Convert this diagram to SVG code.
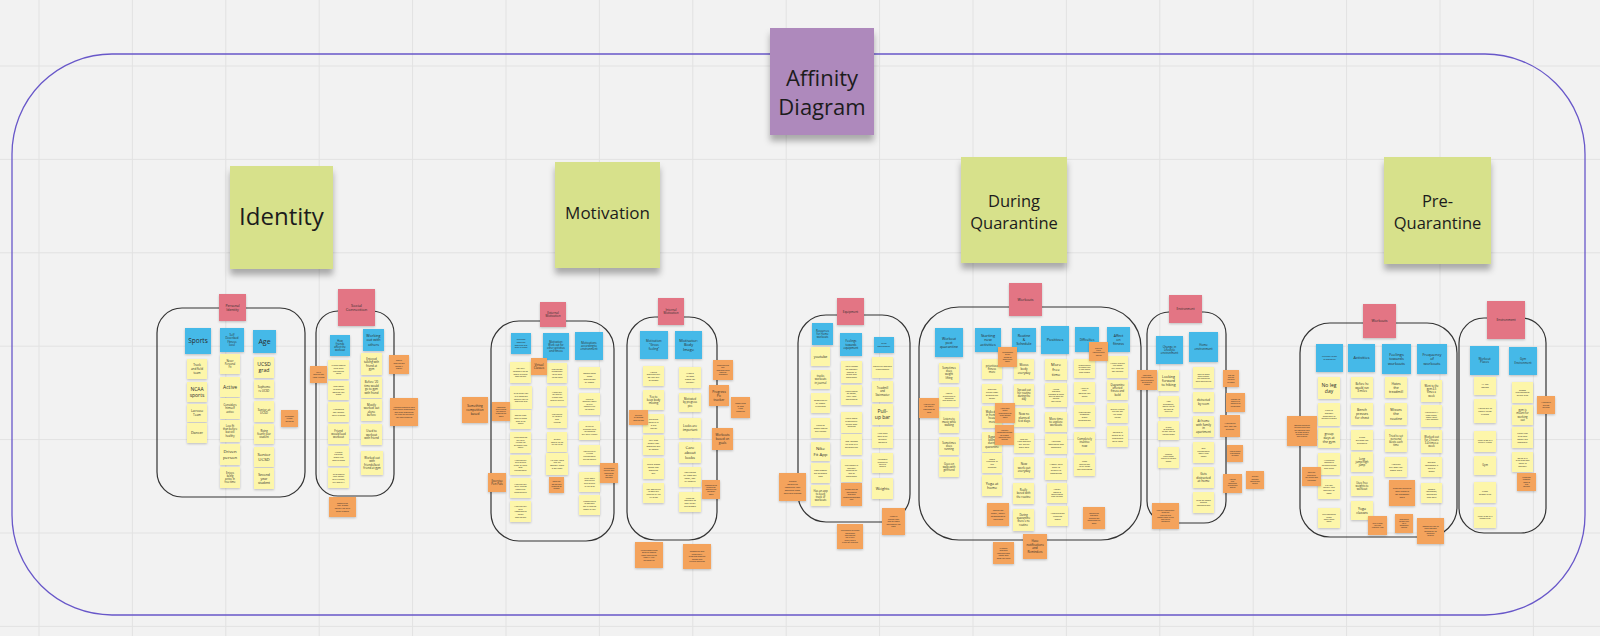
<svg xmlns="http://www.w3.org/2000/svg" width="1600" height="636" viewBox="0 0 1600 636">
<defs>
<filter id="ss" x="-20%" y="-20%" width="140%" height="150%"><feDropShadow dx="0" dy="1" stdDeviation=".8" flood-color="#000" flood-opacity=".22"/></filter>
<filter id="bs" x="-20%" y="-20%" width="140%" height="140%"><feDropShadow dx="0" dy="6" stdDeviation="3" flood-color="#000" flood-opacity=".3"/></filter>
<style>
text{font-family:"Open Sans","Liberation Sans",Arial,sans-serif;text-anchor:middle;fill:#2a2a2a}
.y{fill:#fdf6aa;filter:url(#ss)}
.b{fill:#45b9e8;filter:url(#ss)}
.p{fill:#e37484;filter:url(#ss)}
.o{fill:#f4a35c;filter:url(#ss)}
.g{fill:#d7e18b;filter:url(#bs)}
.v{fill:#ae89bc;filter:url(#bs)}
.big{fill:#1c1c1c}
.fr{fill:none;stroke:#333;stroke-width:1.2}
.grid{stroke:#e2e2e2;stroke-width:1;fill:none}
</style>
</defs>
<rect width="1600" height="636" fill="#f2f2f2"/>
<path class="grid" d="M39 0V636M132.4 0V636M225.8 0V636M319.2 0V636M412.6 0V636M506 0V636M599.4 0V636M692.8 0V636M786.2 0V636M879.6 0V636M973 0V636M1066.4 0V636M1159.8 0V636M1253.2 0V636M1346.6 0V636M1440 0V636M1533.4 0V636"/>
<path class="grid" stroke-width="1.6" d="M0 66H1600M0 159.4H1600M0 252.8H1600M0 346.2H1600M0 439.6H1600M0 533H1600M0 626.4H1600"/>

<g id="connectors">
<rect x="12" y="54" width="1573" height="561" rx="100" ry="100" fill="none" stroke="#6857c9" stroke-width="1.3"/>
<rect class="fr" x="157" y="308" width="148" height="189" rx="25"/>
<rect class="fr" x="316" y="311" width="78" height="185" rx="22"/>
<rect class="fr" x="491" y="321" width="123" height="220" rx="28"/>
<rect class="fr" x="627" y="317" width="90" height="223" rx="28"/>
<rect class="fr" x="798" y="315" width="112" height="207" rx="28"/>
<rect class="fr" x="919" y="307" width="222" height="233" rx="40"/>
<rect class="fr" x="1147" y="312" width="79" height="211" rx="22"/>
<rect class="fr" x="1300" y="323" width="157" height="214" rx="30"/>
<rect class="fr" x="1459" y="318" width="87" height="215" rx="25"/>
</g>

<g id="title" transform="translate(770 28)"><rect class="v" width="104" height="107"/><text x="52" y="63" font-size="22" class="big"><tspan dy="-.25em">Affinity</tspan><tspan x="52" dy="1.36em">Diagram</tspan></text></g>
<g id="identity" transform="translate(230 166)"><rect class="g" width="103" height="103"/><text x="51.5" y="51" font-size="24" class="big" dy=".35em">Identity</text></g>
<g id="motivation" transform="translate(555 162)"><rect class="g" width="105" height="106"/><text x="52.5" y="51" font-size="17" class="big" dy=".35em">Motivation</text></g>
<g id="during-quarantine" transform="translate(961 157)"><rect class="g" width="106" height="106"/><text x="53" y="55" font-size="16.5" class="big"><tspan dy="-.33em">During</tspan><tspan x="53" dy="1.36em">Quarantine</tspan></text></g>
<g id="pre-quarantine" transform="translate(1384 157)"><rect class="g" width="107" height="107"/><text x="53.5" y="55" font-size="16.5" class="big"><tspan dy="-.33em">Pre-</tspan><tspan x="53.5" dy="1.36em">Quarantine</tspan></text></g>

<!-- Identity: Personal Identity -->
<g id="personal-identity" transform="translate(219 294)"><rect class="p" width="27" height="27"/><text x="13.5" y="13.5" font-size="3.5"><tspan dy="-.25em">Personal</tspan><tspan x="13.5" dy="1.2em">Identity</tspan></text></g>
<g id="sports" transform="translate(185 328)"><rect class="b" width="26" height="26"/><text x="13" y="13" font-size="6.5" dy=".35em">Sports</text></g>
<g id="fitness-level" transform="translate(220 328)"><rect class="b" width="24" height="24"/><text x="12" y="12" font-size="2.8"><tspan dy="-1.45em">Self</tspan><tspan x="12" dy="1.2em">Described</tspan><tspan x="12" dy="1.2em">Fitness</tspan><tspan x="12" dy="1.2em">level</tspan></text></g>
<g id="age" transform="translate(253 330)"><rect class="b" width="23" height="23"/><text x="11.5" y="11.5" font-size="7" dy=".35em">Age</text></g>
<g id="id-s1" transform="translate(187 359)"><rect class="y" width="20" height="20"/><text x="10" y="10" font-size="3"><tspan dy="-.85em">Track</tspan><tspan x="10" dy="1.2em">and field</tspan><tspan x="10" dy="1.2em">team</tspan></text></g>
<g id="id-s2" transform="translate(187 382)"><rect class="y" width="20" height="20"/><text x="10" y="10" font-size="5"><tspan dy="-.25em">NCAA</tspan><tspan x="10" dy="1.2em">sports</tspan></text></g>
<g id="id-s3" transform="translate(187 404)"><rect class="y" width="20" height="18"/><text x="10" y="9" font-size="3"><tspan dy="-.25em">Lacrosse</tspan><tspan x="10" dy="1.2em">Team</tspan></text></g>
<g id="id-s4" transform="translate(187 423)"><rect class="y" width="20" height="20"/><text x="10" y="10" font-size="3.6" dy=".35em">Dancer</text></g>
<g id="id-f1" transform="translate(220 354)"><rect class="y" width="20" height="20"/><text x="10" y="10" font-size="2.6"><tspan dy="-.85em">Never</tspan><tspan x="10" dy="1.2em">Personal</tspan><tspan x="10" dy="1.2em">Fit</tspan></text></g>
<g id="id-f2" transform="translate(220 377)"><rect class="y" width="20" height="20"/><text x="10" y="10" font-size="5" dy=".35em">Active</text></g>
<g id="id-f3" transform="translate(220 398)"><rect class="y" width="20" height="21"/><text x="10" y="10.5" font-size="2.8"><tspan dy="-.85em">Considers</tspan><tspan x="10" dy="1.2em">himself</tspan><tspan x="10" dy="1.2em">active</tspan></text></g>
<g id="id-f4" transform="translate(220 420)"><rect class="y" width="20" height="22"/><text x="10" y="11" font-size="2.6"><tspan dy="-1.45em">Less fit</tspan><tspan x="10" dy="1.2em">than before</tspan><tspan x="10" dy="1.2em">but still</tspan><tspan x="10" dy="1.2em">healthy</tspan></text></g>
<g id="id-f5" transform="translate(220 444)"><rect class="y" width="20" height="21"/><text x="10" y="10.5" font-size="4.3"><tspan dy="-.25em">Driven</tspan><tspan x="10" dy="1.2em">person</tspan></text></g>
<g id="id-f6" transform="translate(220 467)"><rect class="y" width="20" height="21"/><text x="10" y="10.5" font-size="2.6"><tspan dy="-1.45em">Enjoys</tspan><tspan x="10" dy="1.2em">being</tspan><tspan x="10" dy="1.2em">active in</tspan><tspan x="10" dy="1.2em">free time</tspan></text></g>
<g id="id-a1" transform="translate(254 357)"><rect class="y" width="20" height="21"/><text x="10" y="10.5" font-size="5.2"><tspan dy="-.25em">UCSD</tspan><tspan x="10" dy="1.2em">grad</tspan></text></g>
<g id="id-a2" transform="translate(254 380)"><rect class="y" width="20" height="18"/><text x="10" y="9" font-size="2.8"><tspan dy="-.25em">Sophomo</tspan><tspan x="10" dy="1.2em">re UCSD</tspan></text></g>
<g id="id-a3" transform="translate(254 401)"><rect class="y" width="20" height="21"/><text x="10" y="10.5" font-size="3"><tspan dy="-.25em">Senior at</tspan><tspan x="10" dy="1.2em">UCSD</tspan></text></g>
<g id="id-a4" transform="translate(254 424)"><rect class="y" width="20" height="20"/><text x="10" y="10" font-size="2.6"><tspan dy="-.85em">Rising</tspan><tspan x="10" dy="1.2em">fourth year</tspan><tspan x="10" dy="1.2em">student</tspan></text></g>
<g id="id-a5" transform="translate(254 447)"><rect class="y" width="20" height="20"/><text x="10" y="10" font-size="4.3"><tspan dy="-.25em">Senior</tspan><tspan x="10" dy="1.2em">UCSD</tspan></text></g>
<g id="id-a6" transform="translate(254 468)"><rect class="y" width="20" height="21"/><text x="10" y="10.5" font-size="3.4"><tspan dy="-.85em">Second</tspan><tspan x="10" dy="1.2em">year</tspan><tspan x="10" dy="1.2em">student</tspan></text></g>
<g id="id-o1" transform="translate(281 410)"><rect class="o" width="17" height="17"/><text x="8.5" y="8.5" font-size="2.3"><tspan dy="-.85em">Transfer</tspan><tspan x="8.5" dy="1.2em">UCSD</tspan><tspan x="8.5" dy="1.2em">student</tspan></text></g>

<!-- Identity: Social Connection -->
<g id="social-connection" transform="translate(338 289)"><rect class="p" width="37" height="37"/><text x="18.5" y="18.5" font-size="4"><tspan dy="-.25em">Social</tspan><tspan x="18.5" dy="1.2em">Connection</tspan></text></g>
<g id="friends-affect" transform="translate(330 335)"><rect class="b" width="20" height="21"/><text x="10" y="10.5" font-size="2.6"><tspan dy="-1.45em">How</tspan><tspan x="10" dy="1.2em">friends</tspan><tspan x="10" dy="1.2em">affect the</tspan><tspan x="10" dy="1.2em">workout</tspan></text></g>
<g id="working-with-others" transform="translate(363 329)"><rect class="b" width="21" height="22"/><text x="10.5" y="11" font-size="3.7"><tspan dy="-.85em">Working</tspan><tspan x="10.5" dy="1.2em">out with</tspan><tspan x="10.5" dy="1.2em">others</tspan></text></g>
<g id="sc-l1" transform="translate(328 360)"><rect class="y" width="21" height="19"/><text x="10.5" y="9.5" font-size="2.3"><tspan dy="-1.45em">Friend would</tspan><tspan x="10.5" dy="1.2em">help with</tspan><tspan x="10.5" dy="1.2em">correcting</tspan><tspan x="10.5" dy="1.2em">form</tspan></text></g>
<g id="sc-l2" transform="translate(328 381)"><rect class="y" width="21" height="19"/><text x="10.5" y="9.5" font-size="2.2"><tspan dy="-1.45em">Less social</tspan><tspan x="10.5" dy="1.2em">interaction</tspan><tspan x="10.5" dy="1.2em">working out</tspan><tspan x="10.5" dy="1.2em">alone</tspan></text></g>
<g id="sc-l3" transform="translate(328 402)"><rect class="y" width="21" height="20"/><text x="10.5" y="10" font-size="2.4"><tspan dy="-.85em">Workouts</tspan><tspan x="10.5" dy="1.2em">last longer</tspan><tspan x="10.5" dy="1.2em">with friends</tspan></text></g>
<g id="sc-l4" transform="translate(328 424)"><rect class="y" width="21" height="20"/><text x="10.5" y="10" font-size="2.8"><tspan dy="-.85em">Friend</tspan><tspan x="10.5" dy="1.2em">would lead</tspan><tspan x="10.5" dy="1.2em">workout</tspan></text></g>
<g id="sc-l5" transform="translate(328 446)"><rect class="y" width="21" height="20"/><text x="10.5" y="10" font-size="2.3"><tspan dy="-1.45em">Weight</tspan><tspan x="10.5" dy="1.2em">training</tspan><tspan x="10.5" dy="1.2em">more fun</tspan><tspan x="10.5" dy="1.2em">with friends</tspan></text></g>
<g id="sc-l6" transform="translate(328 468)"><rect class="y" width="21" height="20"/><text x="10.5" y="10" font-size="2.2"><tspan dy="-1.45em">Gym would</tspan><tspan x="10.5" dy="1.2em">take longer</tspan><tspan x="10.5" dy="1.2em">with friends,</tspan><tspan x="10.5" dy="1.2em">but worth it</tspan></text></g>
<g id="sc-r1" transform="translate(361 353)"><rect class="y" width="21" height="22"/><text x="10.5" y="11" font-size="2.8"><tspan dy="-1.45em">Enjoyed</tspan><tspan x="10.5" dy="1.2em">talking with</tspan><tspan x="10.5" dy="1.2em">friend at</tspan><tspan x="10.5" dy="1.2em">gym</tspan></text></g>
<g id="sc-r2" transform="translate(361 377)"><rect class="y" width="21" height="21"/><text x="10.5" y="10.5" font-size="2.8"><tspan dy="-1.45em">Before '20</tspan><tspan x="10.5" dy="1.2em">time would</tspan><tspan x="10.5" dy="1.2em">go to gym</tspan><tspan x="10.5" dy="1.2em">with friend</tspan></text></g>
<g id="sc-r3" transform="translate(361 399)"><rect class="y" width="21" height="22"/><text x="10.5" y="11" font-size="2.9"><tspan dy="-1.45em">Mostly</tspan><tspan x="10.5" dy="1.2em">worked out</tspan><tspan x="10.5" dy="1.2em">alone</tspan><tspan x="10.5" dy="1.2em">before</tspan></text></g>
<g id="sc-r4" transform="translate(361 424)"><rect class="y" width="21" height="21"/><text x="10.5" y="10.5" font-size="2.9"><tspan dy="-.85em">Used to</tspan><tspan x="10.5" dy="1.2em">workout</tspan><tspan x="10.5" dy="1.2em">with friend</tspan></text></g>
<g id="sc-r5" transform="translate(361 451)"><rect class="y" width="22" height="24"/><text x="11" y="12" font-size="2.8"><tspan dy="-1.45em">Worked out</tspan><tspan x="11" dy="1.2em">with</tspan><tspan x="11" dy="1.2em">friends/best</tspan><tspan x="11" dy="1.2em">friend at gym</tspan></text></g>
<g id="sc-o1" transform="translate(389 355)"><rect class="o" width="20" height="19"/><text x="10" y="9.5" font-size="2.2"><tspan dy="-1.45em">Social</tspan><tspan x="10" dy="1.2em">motivation</tspan><tspan x="10" dy="1.2em">made it</tspan><tspan x="10" dy="1.2em">easier</tspan></text></g>
<g id="sc-o2" transform="translate(390 398)"><rect class="o" width="28" height="28"/><text x="14" y="14" font-size="2"><tspan dy="-2.05em">Workout partners hold</tspan><tspan x="14" dy="1.2em">each other accountable</tspan><tspan x="14" dy="1.2em">and keep motivation</tspan><tspan x="14" dy="1.2em">up even on the days</tspan><tspan x="14" dy="1.2em">you don't want to</tspan></text></g>
<g id="sc-o3" transform="translate(310 366)"><rect class="o" width="17" height="17"/><text x="8.5" y="8.5" font-size="2.1"><tspan dy="-.85em">Gets</tspan><tspan x="8.5" dy="1.2em">motivation</tspan><tspan x="8.5" dy="1.2em">from friends</tspan></text></g>
<g id="sc-o4" transform="translate(329 497)"><rect class="o" width="27" height="20"/><text x="13.5" y="10" font-size="2.2"><tspan dy="-1.45em">Something</tspan><tspan x="13.5" dy="1.2em">that allows</tspan><tspan x="13.5" dy="1.2em">socializing with</tspan><tspan x="13.5" dy="1.2em">other people</tspan></text></g>

<!-- Motivation: External -->
<g id="external-motivation" transform="translate(540 302)"><rect class="p" width="26" height="25"/><text x="13" y="12.5" font-size="3"><tspan dy="-.25em">External</tspan><tspan x="13" dy="1.2em">Motivation</tspan></text></g>
<g id="em-b1" transform="translate(511 333)"><rect class="b" width="20" height="21"/><text x="10" y="10.5" font-size="2.3"><tspan dy="-1.45em">Feelings</tspan><tspan x="10" dy="1.2em">towards</tspan><tspan x="10" dy="1.2em">working out</tspan><tspan x="10" dy="1.2em">with friends</tspan></text></g>
<g id="em-b2" transform="translate(543 333)"><rect class="b" width="26" height="27"/><text x="13" y="13.5" font-size="2.6"><tspan dy="-1.45em">Motivation:</tspan><tspan x="13" dy="1.2em">Work out for</tspan><tspan x="13" dy="1.2em">other activities</tspan><tspan x="13" dy="1.2em">and fitness</tspan></text></g>
<g id="em-b3" transform="translate(575 332)"><rect class="b" width="28" height="28"/><text x="14" y="14" font-size="2.8"><tspan dy="-.85em">Motivations</tspan><tspan x="14" dy="1.2em">according to</tspan><tspan x="14" dy="1.2em">environment</tspan></text></g>
<g id="em-1a" transform="translate(510 362)"><rect class="y" width="21" height="21"/><text x="10.5" y="10.5" font-size="2.2"><tspan dy="-1.45em">Not very</tspan><tspan x="10.5" dy="1.2em">competitive so</tspan><tspan x="10.5" dy="1.2em">more internal</tspan><tspan x="10.5" dy="1.2em">motivation</tspan></text></g>
<g id="em-1b" transform="translate(510 386)"><rect class="y" width="22" height="23"/><text x="11" y="11.5" font-size="2.3"><tspan dy="-1.45em">gym puts you</tspan><tspan x="11" dy="1.2em">in a position</tspan><tspan x="11" dy="1.2em">where you're</tspan><tspan x="11" dy="1.2em">working out</tspan></text></g>
<g id="em-1c" transform="translate(510 410)"><rect class="y" width="21" height="19"/><text x="10.5" y="9.5" font-size="2.3"><tspan dy="-1.45em">Spent time</tspan><tspan x="10.5" dy="1.2em">with friends</tspan><tspan x="10.5" dy="1.2em">with gym</tspan><tspan x="10.5" dy="1.2em">goals</tspan></text></g>
<g id="em-1d" transform="translate(510 432)"><rect class="y" width="21" height="21"/><text x="10.5" y="10.5" font-size="2.1"><tspan dy="-2.05em">Used working</tspan><tspan x="10.5" dy="1.2em">out with</tspan><tspan x="10.5" dy="1.2em">friends for</tspan><tspan x="10.5" dy="1.2em">guidance and</tspan><tspan x="10.5" dy="1.2em">social</tspan></text></g>
<g id="em-1e" transform="translate(510 455)"><rect class="y" width="21" height="20"/><text x="10.5" y="10" font-size="2.1"><tspan dy="-2.05em">Working out</tspan><tspan x="10.5" dy="1.2em">with others</tspan><tspan x="10.5" dy="1.2em">helps to learn</tspan><tspan x="10.5" dy="1.2em">gym</tspan><tspan x="10.5" dy="1.2em">environment</tspan></text></g>
<g id="em-1f" transform="translate(510 478)"><rect class="y" width="21" height="20"/><text x="10.5" y="10" font-size="2.2"><tspan dy="-1.45em">Working out</tspan><tspan x="10.5" dy="1.2em">with friends</tspan><tspan x="10.5" dy="1.2em">keeps her</tspan><tspan x="10.5" dy="1.2em">accountable</tspan></text></g>
<g id="em-1g" transform="translate(510 501)"><rect class="y" width="21" height="21"/><text x="10.5" y="10.5" font-size="2.2"><tspan dy="-2.05em">Working out</tspan><tspan x="10.5" dy="1.2em">with</tspan><tspan x="10.5" dy="1.2em">roommates</tspan><tspan x="10.5" dy="1.2em">helps</tspan><tspan x="10.5" dy="1.2em">motivation</tspan></text></g>
<g id="em-2a" transform="translate(547 363)"><rect class="y" width="20" height="20"/><text x="10" y="10" font-size="2.2"><tspan dy="-1.45em">Motivation</tspan><tspan x="10" dy="1.2em">to workout</tspan><tspan x="10" dy="1.2em">to be able</tspan><tspan x="10" dy="1.2em">to do yoga</tspan></text></g>
<g id="em-2b" transform="translate(547 386)"><rect class="y" width="20" height="20"/><text x="10" y="10" font-size="2.1"><tspan dy="-1.45em">Works out</tspan><tspan x="10" dy="1.2em">for overall</tspan><tspan x="10" dy="1.2em">fitness and</tspan><tspan x="10" dy="1.2em">mental health</tspan></text></g>
<g id="em-2c" transform="translate(547 408)"><rect class="y" width="20" height="20"/><text x="10" y="10" font-size="2.2"><tspan dy="-1.45em">Motivated</tspan><tspan x="10" dy="1.2em">by sports</tspan><tspan x="10" dy="1.2em">and</tspan><tspan x="10" dy="1.2em">friends</tspan></text></g>
<g id="em-2d" transform="translate(547 432)"><rect class="y" width="20" height="20"/><text x="10" y="10" font-size="2.2"><tspan dy="-.85em">Strong</tspan><tspan x="10" dy="1.2em">desire to go</tspan><tspan x="10" dy="1.2em">to the gym</tspan></text></g>
<g id="em-2e" transform="translate(546 453)"><rect class="y" width="22" height="22"/><text x="11" y="11" font-size="2.4"><tspan dy="-1.45em">He just feels</tspan><tspan x="11" dy="1.2em">like he</tspan><tspan x="11" dy="1.2em">doesn't have</tspan><tspan x="11" dy="1.2em">a set goal</tspan></text></g>
<g id="em-2f" transform="translate(549 477)"><rect class="o" width="15" height="16"/><text x="7.5" y="8" font-size="1.9"><tspan dy="-1.45em">Goals for</tspan><tspan x="7.5" dy="1.2em">weight and</tspan><tspan x="7.5" dy="1.2em">progress of</tspan><tspan x="7.5" dy="1.2em">fitness</tspan></text></g>
<g id="em-3a" transform="translate(579 367)"><rect class="y" width="21" height="21"/><text x="10.5" y="10.5" font-size="2.4"><tspan dy="-1.45em">Sometimes</tspan><tspan x="10.5" dy="1.2em">lacks</tspan><tspan x="10.5" dy="1.2em">motivation</tspan><tspan x="10.5" dy="1.2em">at home</tspan></text></g>
<g id="em-3b" transform="translate(579 393)"><rect class="y" width="21" height="22"/><text x="10.5" y="11" font-size="2.1"><tspan dy="-2.05em">Used to</tspan><tspan x="10.5" dy="1.2em">workout more</tspan><tspan x="10.5" dy="1.2em">to stay</tspan><tspan x="10.5" dy="1.2em">competitive</tspan><tspan x="10.5" dy="1.2em">for sports</tspan></text></g>
<g id="em-3c" transform="translate(579 421)"><rect class="y" width="21" height="19"/><text x="10.5" y="9.5" font-size="2.1"><tspan dy="-1.45em">Effective</tspan><tspan x="10.5" dy="1.2em">pushing used</tspan><tspan x="10.5" dy="1.2em">for working</tspan><tspan x="10.5" dy="1.2em">out with friends</tspan></text></g>
<g id="em-3d" transform="translate(579 445)"><rect class="y" width="21" height="20"/><text x="10.5" y="10" font-size="2.1"><tspan dy="-1.45em">Motivated by</tspan><tspan x="10.5" dy="1.2em">a team</tspan><tspan x="10.5" dy="1.2em">environment</tspan><tspan x="10.5" dy="1.2em">during sports</tspan></text></g>
<g id="em-3e" transform="translate(579 472)"><rect class="y" width="21" height="20"/><text x="10.5" y="10" font-size="2.1"><tspan dy="-1.45em">Feels more</tspan><tspan x="10.5" dy="1.2em">motivated</tspan><tspan x="10.5" dy="1.2em">with others</tspan><tspan x="10.5" dy="1.2em">in the gym</tspan></text></g>
<g id="em-3f" transform="translate(579 495)"><rect class="y" width="21" height="20"/><text x="10.5" y="10" font-size="2.1"><tspan dy="-1.45em">Unmotivated</tspan><tspan x="10.5" dy="1.2em">to workout</tspan><tspan x="10.5" dy="1.2em">not attending</tspan><tspan x="10.5" dy="1.2em">home all day</tspan></text></g>
<g id="virtual-classes" transform="translate(531 358)"><rect class="o" width="16" height="17"/><text x="8" y="8.5" font-size="3"><tspan dy="-.25em">Virtual</tspan><tspan x="8" dy="1.2em">Classes</tspan></text></g>
<g id="competition-based" transform="translate(462 397)"><rect class="o" width="26" height="26"/><text x="13" y="13" font-size="3.1"><tspan dy="-.85em">Something</tspan><tspan x="13" dy="1.2em">competition</tspan><tspan x="13" dy="1.2em">based</tspan></text></g>
<g id="em-o2" transform="translate(492 402)"><rect class="o" width="18" height="19"/><text x="9" y="9.5" font-size="1.9"><tspan dy="-2.05em">Competes</tspan><tspan x="9" dy="1.2em">with friends</tspan><tspan x="9" dy="1.2em">for making</tspan><tspan x="9" dy="1.2em">progress on</tspan><tspan x="9" dy="1.2em">goals</tspan></text></g>
<g id="pen-pals" transform="translate(488 473)"><rect class="o" width="18" height="19"/><text x="9" y="9.5" font-size="2.9"><tspan dy="-.25em">Exercise</tspan><tspan x="9" dy="1.2em">Pen Pals</tspan></text></g>
<g id="em-o3" transform="translate(600 463)"><rect class="o" width="18" height="20"/><text x="9" y="10" font-size="1.9"><tspan dy="-2.05em">Suggestions</tspan><tspan x="9" dy="1.2em">to help with</tspan><tspan x="9" dy="1.2em">motivation</tspan><tspan x="9" dy="1.2em">for each</tspan><tspan x="9" dy="1.2em">workout</tspan></text></g>

<!-- Motivation: Internal -->
<g id="internal-motivation" transform="translate(658 298)"><rect class="p" width="26" height="27"/><text x="13" y="13.5" font-size="3"><tspan dy="-.25em">Internal</tspan><tspan x="13" dy="1.2em">Motivation</tspan></text></g>
<g id="im-b1" transform="translate(640 331)"><rect class="b" width="28" height="28"/><text x="14" y="14" font-size="3"><tspan dy="-.85em">Motivation:</tspan><tspan x="14" dy="1.2em">"Gross</tspan><tspan x="14" dy="1.2em">feeling"</tspan></text></g>
<g id="im-b2" transform="translate(675 331)"><rect class="b" width="27" height="28"/><text x="13.5" y="14" font-size="3.9"><tspan dy="-.85em">Motivator:</tspan><tspan x="13.5" dy="1.2em">Body</tspan><tspan x="13.5" dy="1.2em">Image</tspan></text></g>
<g id="im-1a" transform="translate(643 366)"><rect class="y" width="21" height="20"/><text x="10.5" y="10" font-size="2.4"><tspan dy="-1.45em">Would</tspan><tspan x="10.5" dy="1.2em">working out</tspan><tspan x="10.5" dy="1.2em">so feel out</tspan><tspan x="10.5" dy="1.2em">of shape</tspan></text></g>
<g id="im-1b" transform="translate(643 390)"><rect class="y" width="21" height="20"/><text x="10.5" y="10" font-size="2.8"><tspan dy="-.85em">Yes to</tspan><tspan x="10.5" dy="1.2em">keep body</tspan><tspan x="10.5" dy="1.2em">moving</tspan></text></g>
<g id="im-1c" transform="translate(643 414)"><rect class="y" width="21" height="19"/><text x="10.5" y="9.5" font-size="2.5"><tspan dy="-1.45em">Physical</tspan><tspan x="10.5" dy="1.2em">health is</tspan><tspan x="10.5" dy="1.2em">a big</tspan><tspan x="10.5" dy="1.2em">factor</tspan></text></g>
<g id="im-1d" transform="translate(643 435)"><rect class="y" width="21" height="20"/><text x="10.5" y="10" font-size="2.5"><tspan dy="-1.45em">Felt bad</tspan><tspan x="10.5" dy="1.2em">about not</tspan><tspan x="10.5" dy="1.2em">working out</tspan><tspan x="10.5" dy="1.2em">at home</tspan></text></g>
<g id="im-1e" transform="translate(643 458)"><rect class="y" width="21" height="21"/><text x="10.5" y="10.5" font-size="2.5"><tspan dy="-1.45em">Feels gross</tspan><tspan x="10.5" dy="1.2em">when not</tspan><tspan x="10.5" dy="1.2em">working</tspan><tspan x="10.5" dy="1.2em">out</tspan></text></g>
<g id="im-1f" transform="translate(643 483)"><rect class="y" width="21" height="20"/><text x="10.5" y="10" font-size="2.1"><tspan dy="-1.45em">Not motivated</tspan><tspan x="10.5" dy="1.2em">to work out</tspan><tspan x="10.5" dy="1.2em">because of the</tspan><tspan x="10.5" dy="1.2em">full gyms</tspan></text></g>
<g id="im-2a" transform="translate(679 367)"><rect class="y" width="22" height="21"/><text x="11" y="10.5" font-size="2.5"><tspan dy="-1.45em">Wants</tspan><tspan x="11" dy="1.2em">to look</tspan><tspan x="11" dy="1.2em">good for</tspan><tspan x="11" dy="1.2em">herself</tspan></text></g>
<g id="im-2b" transform="translate(679 393)"><rect class="y" width="22" height="19"/><text x="11" y="9.5" font-size="2.6"><tspan dy="-.85em">Motivated</tspan><tspan x="11" dy="1.2em">by progress</tspan><tspan x="11" dy="1.2em">pics</tspan></text></g>
<g id="im-2c" transform="translate(679 418)"><rect class="y" width="22" height="20"/><text x="11" y="10" font-size="3.1"><tspan dy="-.25em">Looks are</tspan><tspan x="11" dy="1.2em">important</tspan></text></g>
<g id="im-2d" transform="translate(679 442)"><rect class="y" width="22" height="21"/><text x="11" y="10.5" font-size="4.1"><tspan dy="-.85em">Care</tspan><tspan x="11" dy="1.2em">about</tspan><tspan x="11" dy="1.2em">looks</tspan></text></g>
<g id="im-2e" transform="translate(679 467)"><rect class="y" width="22" height="20"/><text x="11" y="10" font-size="2.5"><tspan dy="-1.45em">Motivated</tspan><tspan x="11" dy="1.2em">by how her</tspan><tspan x="11" dy="1.2em">body, not</tspan><tspan x="11" dy="1.2em">by sports</tspan></text></g>
<g id="im-2f" transform="translate(679 492)"><rect class="y" width="22" height="20"/><text x="11" y="10" font-size="2.3"><tspan dy="-1.45em">Used to</tspan><tspan x="11" dy="1.2em">workout to</tspan><tspan x="11" dy="1.2em">stay fit for</tspan><tspan x="11" dy="1.2em">the season</tspan></text></g>
<g id="im-o1" transform="translate(629 410)"><rect class="o" width="19" height="15"/><text x="9.5" y="7.5" font-size="2.1"><tspan dy="-.85em">Interest</tspan><tspan x="9.5" dy="1.2em">in gaining</tspan><tspan x="9.5" dy="1.2em">motivation</tspan></text></g>
<g id="im-o2" transform="translate(713 360)"><rect class="o" width="20" height="20"/><text x="10" y="10" font-size="1.9"><tspan dy="-2.05em">Reminders to</tspan><tspan x="10" dy="1.2em">stay</tspan><tspan x="10" dy="1.2em">motivated with</tspan><tspan x="10" dy="1.2em">positive</tspan><tspan x="10" dy="1.2em">messages</tspan></text></g>
<g id="progress-pic" transform="translate(709 385)"><rect class="o" width="20" height="21"/><text x="10" y="10.5" font-size="3.3"><tspan dy="-.85em">Progress</tspan><tspan x="10" dy="1.2em">Pic</tspan><tspan x="10" dy="1.2em">tracker</tspan></text></g>
<g id="im-o4" transform="translate(731 397)"><rect class="o" width="19" height="21"/><text x="9.5" y="10.5" font-size="2.1"><tspan dy="-1.45em">Something</tspan><tspan x="9.5" dy="1.2em">to help</tspan><tspan x="9.5" dy="1.2em">track</tspan><tspan x="9.5" dy="1.2em">progress</tspan></text></g>
<g id="goal-workouts" transform="translate(712 428)"><rect class="o" width="21" height="22"/><text x="10.5" y="11" font-size="3.1"><tspan dy="-.85em">Workouts</tspan><tspan x="10.5" dy="1.2em">based on</tspan><tspan x="10.5" dy="1.2em">goals</tspan></text></g>
<g id="im-o6" transform="translate(702 480)"><rect class="o" width="18" height="19"/><text x="9" y="9.5" font-size="1.9"><tspan dy="-2.05em">Something to</tspan><tspan x="9" dy="1.2em">reward for</tspan><tspan x="9" dy="1.2em">working out</tspan><tspan x="9" dy="1.2em">personal</tspan><tspan x="9" dy="1.2em">goals</tspan></text></g>
<g id="im-o7" transform="translate(635 542)"><rect class="o" width="28" height="26"/><text x="14" y="13" font-size="2.1"><tspan dy="-2.05em">Media something</tspan><tspan x="14" dy="1.2em">geared toward</tspan><tspan x="14" dy="1.2em">those motivated</tspan><tspan x="14" dy="1.2em">from a "fun"</tspan><tspan x="14" dy="1.2em">perspective</tspan></text></g>
<g id="im-o8" transform="translate(683 544)"><rect class="o" width="28" height="25"/><text x="14" y="12.5" font-size="2"><tspan dy="-2.05em">Something that</tspan><tspan x="14" dy="1.2em">tracks daily</tspan><tspan x="14" dy="1.2em">progress towards</tspan><tspan x="14" dy="1.2em">fitness and</tspan><tspan x="14" dy="1.2em">current activities</tspan></text></g>

<!-- During: Equipment -->
<g id="equipment" transform="translate(837 298)"><rect class="p" width="27" height="27"/><text x="13.5" y="13.5" font-size="3" dy=".35em">Equipment</text></g>
<g id="eq-b1" transform="translate(812 323)"><rect class="b" width="21" height="22"/><text x="10.5" y="11" font-size="2.7"><tspan dy="-.85em">Resources</tspan><tspan x="10.5" dy="1.2em">for Home</tspan><tspan x="10.5" dy="1.2em">workouts</tspan></text></g>
<g id="eq-b2" transform="translate(840 333)"><rect class="b" width="22" height="23"/><text x="11" y="11.5" font-size="2.9"><tspan dy="-.85em">Feelings</tspan><tspan x="11" dy="1.2em">towards</tspan><tspan x="11" dy="1.2em">equipment</tspan></text></g>
<g id="eq-b3" transform="translate(874 337)"><rect class="b" width="20" height="16"/><text x="10" y="8" font-size="2.5"><tspan dy="-.25em">Gym</tspan><tspan x="10" dy="1.2em">Equipment</tspan></text></g>
<g id="eq-1a" transform="translate(811 347)"><rect class="y" width="19" height="19"/><text x="9.5" y="9.5" font-size="3.5" dy=".35em">youtube</text></g>
<g id="eq-1b" transform="translate(811 370)"><rect class="y" width="19" height="19"/><text x="9.5" y="9.5" font-size="2.7"><tspan dy="-.85em">tracks</tspan><tspan x="9.5" dy="1.2em">workouts</tspan><tspan x="9.5" dy="1.2em">in journal</tspan></text></g>
<g id="eq-1c" transform="translate(811 393)"><rect class="y" width="19" height="20"/><text x="9.5" y="10" font-size="2.4"><tspan dy="-.85em">Resourceful</tspan><tspan x="9.5" dy="1.2em">at home</tspan><tspan x="9.5" dy="1.2em">exercises</tspan></text></g>
<g id="eq-1d" transform="translate(811 418)"><rect class="y" width="19" height="20"/><text x="9.5" y="10" font-size="2.3"><tspan dy="-.85em">Used to</tspan><tspan x="9.5" dy="1.2em">watch sports</tspan><tspan x="9.5" dy="1.2em">out videos</tspan></text></g>
<g id="eq-1e" transform="translate(811 442)"><rect class="y" width="19" height="19"/><text x="9.5" y="9.5" font-size="4.3"><tspan dy="-.25em">Nike</tspan><tspan x="9.5" dy="1.2em">Fit App</tspan></text></g>
<g id="eq-1f" transform="translate(811 463)"><rect class="y" width="19" height="20"/><text x="9.5" y="10" font-size="2.4"><tspan dy="-.85em">Uses power</tspan><tspan x="9.5" dy="1.2em">on demand</tspan><tspan x="9.5" dy="1.2em">app</tspan></text></g>
<g id="eq-1g" transform="translate(811 485)"><rect class="y" width="19" height="21"/><text x="9.5" y="10.5" font-size="2.7"><tspan dy="-1.45em">Has an app</tspan><tspan x="9.5" dy="1.2em">to keep</tspan><tspan x="9.5" dy="1.2em">track of</tspan><tspan x="9.5" dy="1.2em">workouts</tspan></text></g>
<g id="eq-2a" transform="translate(841 361)"><rect class="y" width="21" height="22"/><text x="10.5" y="11" font-size="2.2"><tspan dy="-2.05em">Main reason</tspan><tspan x="10.5" dy="1.2em">for workout</tspan><tspan x="10.5" dy="1.2em">change is</tspan><tspan x="10.5" dy="1.2em">space and</tspan><tspan x="10.5" dy="1.2em">equipment</tspan></text></g>
<g id="eq-2b" transform="translate(841 385)"><rect class="y" width="21" height="20"/><text x="10.5" y="10" font-size="2.3"><tspan dy="-1.45em">Little space</tspan><tspan x="10.5" dy="1.2em">at home,</tspan><tspan x="10.5" dy="1.2em">very little</tspan><tspan x="10.5" dy="1.2em">equipment</tspan></text></g>
<g id="eq-2c" transform="translate(841 412)"><rect class="y" width="21" height="21"/><text x="10.5" y="10.5" font-size="2.3"><tspan dy="-1.45em">Feels more</tspan><tspan x="10.5" dy="1.2em">productive/</tspan><tspan x="10.5" dy="1.2em">fluent with</tspan><tspan x="10.5" dy="1.2em">weights</tspan></text></g>
<g id="eq-2d" transform="translate(841 434)"><rect class="y" width="21" height="21"/><text x="10.5" y="10.5" font-size="2.5"><tspan dy="-.85em">lost access</tspan><tspan x="10.5" dy="1.2em">to gym b/c</tspan><tspan x="10.5" dy="1.2em">quarantine</tspan></text></g>
<g id="eq-2e" transform="translate(841 459)"><rect class="y" width="21" height="23"/><text x="10.5" y="11.5" font-size="2.2"><tspan dy="-2.05em">No change in</tspan><tspan x="10.5" dy="1.2em">workout</tspan><tspan x="10.5" dy="1.2em">because of</tspan><tspan x="10.5" dy="1.2em">lack of</tspan><tspan x="10.5" dy="1.2em">equipment</tspan></text></g>
<g id="eq-2f" transform="translate(841 483)"><rect class="o" width="21" height="23"/><text x="10.5" y="11.5" font-size="2"><tspan dy="-2.05em">Resources for</tspan><tspan x="10.5" dy="1.2em">equipment</tspan><tspan x="10.5" dy="1.2em">workout</tspan><tspan x="10.5" dy="1.2em">recommendations</tspan><tspan x="10.5" dy="1.2em">tips</tspan></text></g>
<g id="eq-3a" transform="translate(872 357)"><rect class="y" width="21" height="21"/><text x="10.5" y="10.5" font-size="2.2"><tspan dy="-.25em">Takes pre-workout</tspan><tspan x="10.5" dy="1.2em">supplements</tspan></text></g>
<g id="eq-3b" transform="translate(872 381)"><rect class="y" width="21" height="21"/><text x="10.5" y="10.5" font-size="2.6"><tspan dy="-.85em">Treadmill</tspan><tspan x="10.5" dy="1.2em">and</tspan><tspan x="10.5" dy="1.2em">Stairmaster</tspan></text></g>
<g id="eq-3c" transform="translate(872 404)"><rect class="y" width="21" height="21"/><text x="10.5" y="10.5" font-size="5"><tspan dy="-.25em">Pull-</tspan><tspan x="10.5" dy="1.2em">up bar</tspan></text></g>
<g id="eq-3d" transform="translate(872 427)"><rect class="y" width="21" height="21"/><text x="10.5" y="10.5" font-size="2.4"><tspan dy="-1.45em">Has bars</tspan><tspan x="10.5" dy="1.2em">and stuff</tspan><tspan x="10.5" dy="1.2em">without</tspan><tspan x="10.5" dy="1.2em">weights</tspan></text></g>
<g id="eq-3e" transform="translate(872 453)"><rect class="y" width="21" height="20"/><text x="10.5" y="10" font-size="2"><tspan dy="-1.45em">Adjustable</tspan><tspan x="10.5" dy="1.2em">dumbbells</tspan><tspan x="10.5" dy="1.2em">to build</tspan><tspan x="10.5" dy="1.2em">muscle</tspan></text></g>
<g id="eq-3f" transform="translate(872 478)"><rect class="y" width="21" height="21"/><text x="10.5" y="10.5" font-size="3.7" dy=".35em">Weights</text></g>
<g id="collective-resource" transform="translate(779 473)"><rect class="o" width="27" height="28"/><text x="13.5" y="14" font-size="2.5"><tspan dy="-2.05em">Create</tspan><tspan x="13.5" dy="1.2em">collective</tspan><tspan x="13.5" dy="1.2em">resource that</tspan><tspan x="13.5" dy="1.2em">sources from</tspan><tspan x="13.5" dy="1.2em">multiple places</tspan></text></g>
<g id="eq-o2" transform="translate(837 524)"><rect class="o" width="26" height="25"/><text x="13" y="12.5" font-size="1.9"><tspan dy="-2.65em">Inexpensive at-home</tspan><tspan x="13" dy="1.2em">equipment</tspan><tspan x="13" dy="1.2em">alternatives</tspan><tspan x="13" dy="1.2em">for all skill</tspan><tspan x="13" dy="1.2em">levels, with a</tspan><tspan x="13" dy="1.2em">guide for routines</tspan></text></g>
<g id="eq-o3" transform="translate(882 508)"><rect class="o" width="23" height="27"/><text x="11.5" y="13.5" font-size="2"><tspan dy="-2.05em">Lifestyle</tspan><tspan x="11.5" dy="1.2em">tracker that</tspan><tspan x="11.5" dy="1.2em">logs at-home</tspan><tspan x="11.5" dy="1.2em">equipment you</tspan><tspan x="11.5" dy="1.2em">have</tspan></text></g>

<!-- During: Workouts -->
<g id="workouts-during" transform="translate(1009 283)"><rect class="p" width="33" height="33"/><text x="16.5" y="16.5" font-size="3.5" dy=".35em">Workouts</text></g>
<g id="dw-b1" transform="translate(935 328)"><rect class="b" width="28" height="29"/><text x="14" y="14.5" font-size="3.5"><tspan dy="-.85em">Workout</tspan><tspan x="14" dy="1.2em">post</tspan><tspan x="14" dy="1.2em">quarantine</tspan></text></g>
<g id="dw-b2" transform="translate(975 328)"><rect class="b" width="26" height="24"/><text x="13" y="12" font-size="3.9"><tspan dy="-.85em">Starting</tspan><tspan x="13" dy="1.2em">new</tspan><tspan x="13" dy="1.2em">activities</tspan></text></g>
<g id="dw-b3" transform="translate(1012 328)"><rect class="b" width="24" height="24"/><text x="12" y="12" font-size="3.5"><tspan dy="-.85em">Routine</tspan><tspan x="12" dy="1.2em">&amp;</tspan><tspan x="12" dy="1.2em">Schedule</tspan></text></g>
<g id="dw-b4" transform="translate(1041 326)"><rect class="b" width="28" height="28"/><text x="14" y="14" font-size="4.1" dy=".35em">Positives</text></g>
<g id="dw-b5" transform="translate(1075 327)"><rect class="b" width="24" height="25"/><text x="12" y="12.5" font-size="3" dy=".35em">Difficulties</text></g>
<g id="dw-b6" transform="translate(1107 327)"><rect class="b" width="23" height="25"/><text x="11.5" y="12.5" font-size="3.5"><tspan dy="-.85em">Affect</tspan><tspan x="11.5" dy="1.2em">on</tspan><tspan x="11.5" dy="1.2em">fitness</tspan></text></g>
<g id="dw-1a" transform="translate(939 363)"><rect class="y" width="20" height="20"/><text x="10" y="10" font-size="2.6"><tspan dy="-1.45em">Sometimes</tspan><tspan x="10" dy="1.2em">does</tspan><tspan x="10" dy="1.2em">weight</tspan><tspan x="10" dy="1.2em">lifting</tspan></text></g>
<g id="dw-1b" transform="translate(939 387)"><rect class="y" width="20" height="20"/><text x="10" y="10" font-size="2"><tspan dy="-1.45em">Lots of</tspan><tspan x="10" dy="1.2em">experience in</tspan><tspan x="10" dy="1.2em">workouts</tspan><tspan x="10" dy="1.2em">and quality fit</tspan></text></g>
<g id="dw-1c" transform="translate(939 411)"><rect class="y" width="20" height="22"/><text x="10" y="11" font-size="2.6"><tspan dy="-.85em">Listens to</tspan><tspan x="10" dy="1.2em">music while</tspan><tspan x="10" dy="1.2em">walking</tspan></text></g>
<g id="dw-1d" transform="translate(939 437)"><rect class="y" width="20" height="18"/><text x="10" y="9" font-size="2.6"><tspan dy="-.85em">Sometimes</tspan><tspan x="10" dy="1.2em">does</tspan><tspan x="10" dy="1.2em">running</tspan></text></g>
<g id="dw-1e" transform="translate(939 457)"><rect class="y" width="20" height="20"/><text x="10" y="10" font-size="2.6"><tspan dy="-.85em">Goes on</tspan><tspan x="10" dy="1.2em">walks with</tspan><tspan x="10" dy="1.2em">girlfriend</tspan></text></g>
<g id="dw-2a" transform="translate(982 359)"><rect class="y" width="20" height="20"/><text x="10" y="10" font-size="2.7"><tspan dy="-.85em">prioritizes</tspan><tspan x="10" dy="1.2em">fitness</tspan><tspan x="10" dy="1.2em">more</tspan></text></g>
<g id="dw-2b" transform="translate(982 384)"><rect class="y" width="20" height="19"/><text x="10" y="9.5" font-size="2.4"><tspan dy="-1.45em">Starting</tspan><tspan x="10" dy="1.2em">biking post</tspan><tspan x="10" dy="1.2em">quarantine</tspan><tspan x="10" dy="1.2em">order</tspan></text></g>
<g id="dw-2c" transform="translate(982 406)"><rect class="y" width="20" height="22"/><text x="10" y="11" font-size="2.6"><tspan dy="-1.45em">Walks dog</tspan><tspan x="10" dy="1.2em">in front of</tspan><tspan x="10" dy="1.2em">house</tspan><tspan x="10" dy="1.2em">more</tspan></text></g>
<g id="dw-2d" transform="translate(982 432)"><rect class="y" width="20" height="20"/><text x="10" y="10" font-size="2.6"><tspan dy="-1.45em">Began</tspan><tspan x="10" dy="1.2em">biking</tspan><tspan x="10" dy="1.2em">during</tspan><tspan x="10" dy="1.2em">quarantine</tspan></text></g>
<g id="dw-2e" transform="translate(982 453)"><rect class="y" width="20" height="20"/><text x="10" y="10" font-size="2.4"><tspan dy="-1.45em">Goes</tspan><tspan x="10" dy="1.2em">running in</tspan><tspan x="10" dy="1.2em">the</tspan><tspan x="10" dy="1.2em">evening</tspan></text></g>
<g id="dw-2f" transform="translate(982 475)"><rect class="y" width="20" height="21"/><text x="10" y="10.5" font-size="3.7"><tspan dy="-.25em">Yoga at</tspan><tspan x="10" dy="1.2em">home</tspan></text></g>
<g id="dw-3a" transform="translate(1014 359)"><rect class="y" width="20" height="20"/><text x="10" y="10" font-size="3"><tspan dy="-.85em">Moves</tspan><tspan x="10" dy="1.2em">body</tspan><tspan x="10" dy="1.2em">everyday</tspan></text></g>
<g id="dw-3b" transform="translate(1014 384)"><rect class="y" width="20" height="21"/><text x="10" y="10.5" font-size="2.6"><tspan dy="-1.45em">Spread out</tspan><tspan x="10" dy="1.2em">her routine</tspan><tspan x="10" dy="1.2em">during the</tspan><tspan x="10" dy="1.2em">day</tspan></text></g>
<g id="dw-3c" transform="translate(1014 408)"><rect class="y" width="20" height="19"/><text x="10" y="9.5" font-size="2.9"><tspan dy="-.85em">Now no</tspan><tspan x="10" dy="1.2em">planned</tspan><tspan x="10" dy="1.2em">rest days</tspan></text></g>
<g id="dw-3d" transform="translate(1014 433)"><rect class="y" width="20" height="20"/><text x="10" y="10" font-size="2.2"><tspan dy="-1.45em">Less set</tspan><tspan x="10" dy="1.2em">time working</tspan><tspan x="10" dy="1.2em">out during</tspan><tspan x="10" dy="1.2em">work days</tspan></text></g>
<g id="dw-3e" transform="translate(1014 457)"><rect class="y" width="20" height="21"/><text x="10" y="10.5" font-size="3"><tspan dy="-.85em">Now</tspan><tspan x="10" dy="1.2em">work out</tspan><tspan x="10" dy="1.2em">everyday</tspan></text></g>
<g id="dw-3f" transform="translate(1013 483)"><rect class="y" width="21" height="21"/><text x="10.5" y="10.5" font-size="2.7"><tspan dy="-.85em">Really</tspan><tspan x="10.5" dy="1.2em">bored with</tspan><tspan x="10.5" dy="1.2em">the routine</tspan></text></g>
<g id="dw-3g" transform="translate(1013 509)"><rect class="y" width="21" height="22"/><text x="10.5" y="11" font-size="2.6"><tspan dy="-1.45em">During</tspan><tspan x="10.5" dy="1.2em">quarantine</tspan><tspan x="10.5" dy="1.2em">there's no</tspan><tspan x="10.5" dy="1.2em">routine</tspan></text></g>
<g id="dw-4a" transform="translate(1045 359)"><rect class="y" width="22" height="21"/><text x="11" y="10.5" font-size="4"><tspan dy="-.85em">More</tspan><tspan x="11" dy="1.2em">free</tspan><tspan x="11" dy="1.2em">time</tspan></text></g>
<g id="dw-4b" transform="translate(1045 383)"><rect class="y" width="22" height="24"/><text x="11" y="12" font-size="2"><tspan dy="-2.65em">Having</tspan><tspan x="11" dy="1.2em">workout</tspan><tspan x="11" dy="1.2em">freedom &amp; being</tspan><tspan x="11" dy="1.2em">able to work on</tspan><tspan x="11" dy="1.2em">mental</tspan><tspan x="11" dy="1.2em">well-being</tspan></text></g>
<g id="dw-4c" transform="translate(1045 412)"><rect class="y" width="22" height="20"/><text x="11" y="10" font-size="2.8"><tspan dy="-.85em">More time</tspan><tspan x="11" dy="1.2em">to explore</tspan><tspan x="11" dy="1.2em">workouts</tspan></text></g>
<g id="dw-4d" transform="translate(1045 434)"><rect class="y" width="22" height="20"/><text x="11" y="10" font-size="2.3"><tspan dy="-.85em">Has new</tspan><tspan x="11" dy="1.2em">motivated and</tspan><tspan x="11" dy="1.2em">academic</tspan></text></g>
<g id="dw-4e" transform="translate(1045 458)"><rect class="y" width="22" height="22"/><text x="11" y="11" font-size="2.5"><tspan dy="-1.45em">Happy he's</tspan><tspan x="11" dy="1.2em">able to</tspan><tspan x="11" dy="1.2em">prioritize</tspan><tspan x="11" dy="1.2em">schedules</tspan></text></g>
<g id="dw-4f" transform="translate(1047 483)"><rect class="y" width="20" height="20"/><text x="10" y="10" font-size="2"><tspan dy="-1.45em">Healthy</tspan><tspan x="10" dy="1.2em">eating &amp;</tspan><tspan x="10" dy="1.2em">appreciating</tspan><tspan x="10" dy="1.2em">time to cook</tspan></text></g>
<g id="dw-4g" transform="translate(1047 506)"><rect class="y" width="21" height="20"/><text x="10.5" y="10" font-size="2.5"><tspan dy="-.85em">Appreciates</tspan><tspan x="10.5" dy="1.2em">running</tspan><tspan x="10.5" dy="1.2em">more</tspan></text></g>
<g id="dw-5a" transform="translate(1074 359)"><rect class="y" width="21" height="19"/><text x="10.5" y="9.5" font-size="2"><tspan dy="-1.45em">Discouraging</tspan><tspan x="10.5" dy="1.2em">to notice self</tspan><tspan x="10.5" dy="1.2em">is less active</tspan><tspan x="10.5" dy="1.2em">than before</tspan></text></g>
<g id="dw-5b" transform="translate(1074 382)"><rect class="y" width="21" height="20"/><text x="10.5" y="10" font-size="2.2"><tspan dy="-1.45em">Hard to</tspan><tspan x="10.5" dy="1.2em">start</tspan><tspan x="10.5" dy="1.2em">working out</tspan><tspan x="10.5" dy="1.2em">again</tspan></text></g>
<g id="dw-5c" transform="translate(1074 405)"><rect class="y" width="21" height="22"/><text x="10.5" y="11" font-size="2.4"><tspan dy="-1.45em">Motivation</tspan><tspan x="10.5" dy="1.2em">dropped</tspan><tspan x="10.5" dy="1.2em">since</tspan><tspan x="10.5" dy="1.2em">quarantine</tspan></text></g>
<g id="dw-5d" transform="translate(1074 432)"><rect class="y" width="21" height="21"/><text x="10.5" y="10.5" font-size="2.8"><tspan dy="-.85em">Completely</tspan><tspan x="10.5" dy="1.2em">inactive</tspan><tspan x="10.5" dy="1.2em">now</tspan></text></g>
<g id="dw-5e" transform="translate(1074 455)"><rect class="y" width="21" height="21"/><text x="10.5" y="10.5" font-size="2.1"><tspan dy="-1.45em">Finds</tspan><tspan x="10.5" dy="1.2em">motivation</tspan><tspan x="10.5" dy="1.2em">to be tough</tspan><tspan x="10.5" dy="1.2em">and challenging</tspan></text></g>
<g id="dw-6a" transform="translate(1107 356)"><rect class="y" width="21" height="22"/><text x="10.5" y="11" font-size="2.2"><tspan dy="-1.45em">Weight stayed</tspan><tspan x="10.5" dy="1.2em">the same</tspan><tspan x="10.5" dy="1.2em">but feels he</tspan><tspan x="10.5" dy="1.2em">lost muscle</tspan></text></g>
<g id="dw-6b" transform="translate(1107 380)"><rect class="y" width="21" height="20"/><text x="10.5" y="10" font-size="2.6"><tspan dy="-1.45em">Quarantine</tspan><tspan x="10.5" dy="1.2em">affected</tspan><tspan x="10.5" dy="1.2em">fitness and</tspan><tspan x="10.5" dy="1.2em">build</tspan></text></g>
<g id="dw-6c" transform="translate(1107 403)"><rect class="y" width="21" height="20"/><text x="10.5" y="10" font-size="2.1"><tspan dy="-1.45em">Overall fitness</tspan><tspan x="10.5" dy="1.2em">has not got</tspan><tspan x="10.5" dy="1.2em">the same</tspan><tspan x="10.5" dy="1.2em">cardio</tspan></text></g>
<g id="dw-6d" transform="translate(1107 426)"><rect class="y" width="21" height="21"/><text x="10.5" y="10.5" font-size="2.5"><tspan dy="-1.45em">cardio is</tspan><tspan x="10.5" dy="1.2em">more of a</tspan><tspan x="10.5" dy="1.2em">challenge</tspan><tspan x="10.5" dy="1.2em">with labs</tspan></text></g>
<g id="dw-o1" transform="translate(998 347)"><rect class="o" width="19" height="20"/><text x="9.5" y="10" font-size="1.9"><tspan dy="-2.05em">Suggestions</tspan><tspan x="9.5" dy="1.2em">of the</tspan><tspan x="9.5" dy="1.2em">needs to</tspan><tspan x="9.5" dy="1.2em">more days</tspan><tspan x="9.5" dy="1.2em">today</tspan></text></g>
<g id="dw-o2" transform="translate(995 403)"><rect class="o" width="20" height="20"/><text x="10" y="10" font-size="1.9"><tspan dy="-2.05em">Hold each</tspan><tspan x="10" dy="1.2em">other</tspan><tspan x="10" dy="1.2em">accountable to</tspan><tspan x="10" dy="1.2em">fulfill fitness</tspan><tspan x="10" dy="1.2em">goals</tspan></text></g>
<g id="dw-o3" transform="translate(995 425)"><rect class="o" width="19" height="20"/><text x="9.5" y="10" font-size="1.8"><tspan dy="-2.05em">Workout</tspan><tspan x="9.5" dy="1.2em">recommendations</tspan><tspan x="9.5" dy="1.2em">for people</tspan><tspan x="9.5" dy="1.2em">based on their</tspan><tspan x="9.5" dy="1.2em">interest</tspan></text></g>
<g id="dw-o4" transform="translate(919 398)"><rect class="o" width="20" height="20"/><text x="10" y="10" font-size="2.3"><tspan dy="-1.45em">Would like</tspan><tspan x="10" dy="1.2em">to easily</tspan><tspan x="10" dy="1.2em">connect to</tspan><tspan x="10" dy="1.2em">app</tspan></text></g>
<g id="dw-o5" transform="translate(987 503)"><rect class="o" width="22" height="23"/><text x="11" y="11.5" font-size="2.5"><tspan dy="-1.45em">Focus on</tspan><tspan x="11" dy="1.2em">short, easily</tspan><tspan x="11" dy="1.2em">manageable</tspan><tspan x="11" dy="1.2em">routines</tspan></text></g>
<g id="dw-o6" transform="translate(1083 507)"><rect class="o" width="22" height="22"/><text x="11" y="11" font-size="2"><tspan dy="-2.05em">Socializing</tspan><tspan x="11" dy="1.2em">workout</tspan><tspan x="11" dy="1.2em">buddies for</tspan><tspan x="11" dy="1.2em">accountability</tspan><tspan x="11" dy="1.2em">apps</tspan></text></g>
<g id="dw-o7" transform="translate(993 542)"><rect class="o" width="21" height="22"/><text x="10.5" y="11" font-size="2"><tspan dy="-2.05em">Creating</tspan><tspan x="10.5" dy="1.2em">workout</tspan><tspan x="10.5" dy="1.2em">routines from</tspan><tspan x="10.5" dy="1.2em">home with</tspan><tspan x="10.5" dy="1.2em">what you have</tspan></text></g>
<g id="notifications" transform="translate(1023 534)"><rect class="o" width="24" height="25"/><text x="12" y="12.5" font-size="3"><tspan dy="-1.45em">Have</tspan><tspan x="12" dy="1.2em">notifications</tspan><tspan x="12" dy="1.2em">and</tspan><tspan x="12" dy="1.2em">Reminders</tspan></text></g>
<g id="dw-o9" transform="translate(1089 342)"><rect class="o" width="19" height="19"/><text x="9.5" y="9.5" font-size="2"><tspan dy="-1.45em">Time to</tspan><tspan x="9.5" dy="1.2em">build</tspan><tspan x="9.5" dy="1.2em">routines and</tspan><tspan x="9.5" dy="1.2em">habits</tspan></text></g>

<!-- During: Environment -->
<g id="environment-during" transform="translate(1169 295)"><rect class="p" width="33" height="28"/><text x="16.5" y="14" font-size="3" dy=".35em">Environment</text></g>
<g id="de-b1" transform="translate(1156 336)"><rect class="b" width="27" height="28"/><text x="13.5" y="14" font-size="2.9"><tspan dy="-.85em">Change in</tspan><tspan x="13.5" dy="1.2em">Lifestyle</tspan><tspan x="13.5" dy="1.2em">environment</tspan></text></g>
<g id="de-b2" transform="translate(1189 332)"><rect class="b" width="29" height="30"/><text x="14.5" y="15" font-size="3"><tspan dy="-.25em">Home</tspan><tspan x="14.5" dy="1.2em">environment</tspan></text></g>
<g id="de-1a" transform="translate(1158 370)"><rect class="y" width="21" height="21"/><text x="10.5" y="10.5" font-size="3.5"><tspan dy="-.85em">Looking</tspan><tspan x="10.5" dy="1.2em">forward</tspan><tspan x="10.5" dy="1.2em">to hiking</tspan></text></g>
<g id="de-1b" transform="translate(1158 396)"><rect class="y" width="21" height="21"/><text x="10.5" y="10.5" font-size="2"><tspan dy="-2.05em">After</tspan><tspan x="10.5" dy="1.2em">quarantine,</tspan><tspan x="10.5" dy="1.2em">would like to</tspan><tspan x="10.5" dy="1.2em">go back to</tspan><tspan x="10.5" dy="1.2em">the gym</tspan></text></g>
<g id="de-1c" transform="translate(1158 421)"><rect class="y" width="21" height="19"/><text x="10.5" y="9.5" font-size="2"><tspan dy="-1.45em">Is able</tspan><tspan x="10.5" dy="1.2em">to workout</tspan><tspan x="10.5" dy="1.2em">as well due to</tspan><tspan x="10.5" dy="1.2em">limited space</tspan></text></g>
<g id="de-1d" transform="translate(1158 447)"><rect class="y" width="21" height="21"/><text x="10.5" y="10.5" font-size="2"><tspan dy="-1.45em">Coming</tspan><tspan x="10.5" dy="1.2em">back home</tspan><tspan x="10.5" dy="1.2em">there's a limited</tspan><tspan x="10.5" dy="1.2em">space</tspan></text></g>
<g id="de-2a" transform="translate(1193 367)"><rect class="y" width="21" height="21"/><text x="10.5" y="10.5" font-size="1.9"><tspan dy="-1.45em">Back at home</tspan><tspan x="10.5" dy="1.2em">more people</tspan><tspan x="10.5" dy="1.2em">are distracting</tspan><tspan x="10.5" dy="1.2em">while working out</tspan></text></g>
<g id="de-2b" transform="translate(1193 392)"><rect class="y" width="21" height="20"/><text x="10.5" y="10" font-size="2.8"><tspan dy="-.25em">distracted</tspan><tspan x="10.5" dy="1.2em">by room</tspan></text></g>
<g id="de-2c" transform="translate(1193 416)"><rect class="y" width="21" height="21"/><text x="10.5" y="10.5" font-size="3"><tspan dy="-1.45em">At home</tspan><tspan x="10.5" dy="1.2em">with family</tspan><tspan x="10.5" dy="1.2em">in</tspan><tspan x="10.5" dy="1.2em">apartment</tspan></text></g>
<g id="de-2d" transform="translate(1193 442)"><rect class="y" width="21" height="21"/><text x="10.5" y="10.5" font-size="2.1"><tspan dy="-1.45em">Best</tspan><tspan x="10.5" dy="1.2em">environment</tspan><tspan x="10.5" dy="1.2em">more than</tspan><tspan x="10.5" dy="1.2em">home</tspan></text></g>
<g id="de-2e" transform="translate(1193 467)"><rect class="y" width="21" height="21"/><text x="10.5" y="10.5" font-size="3.1"><tspan dy="-.85em">Gets</tspan><tspan x="10.5" dy="1.2em">distracted</tspan><tspan x="10.5" dy="1.2em">at home</tspan></text></g>
<g id="de-2f" transform="translate(1193 492)"><rect class="y" width="21" height="21"/><text x="10.5" y="10.5" font-size="2.3"><tspan dy="-.85em">Gym at home</tspan><tspan x="10.5" dy="1.2em">added</tspan><tspan x="10.5" dy="1.2em">convenience</tspan></text></g>
<g id="de-o1" transform="translate(1137 370)"><rect class="o" width="20" height="20"/><text x="10" y="10" font-size="1.9"><tspan dy="-2.05em">Less than</tspan><tspan x="10" dy="1.2em">3 days would</tspan><tspan x="10" dy="1.2em">use a schedule</tspan><tspan x="10" dy="1.2em">to prioritize</tspan><tspan x="10" dy="1.2em">efforts</tspan></text></g>
<g id="de-o2" transform="translate(1223 370)"><rect class="o" width="16" height="17"/><text x="8" y="8.5" font-size="1.9"><tspan dy="-1.45em">Tips for</tspan><tspan x="8" dy="1.2em">staying</tspan><tspan x="8" dy="1.2em">focused</tspan><tspan x="8" dy="1.2em">at home</tspan></text></g>
<g id="de-o3" transform="translate(1226 393)"><rect class="o" width="19" height="19"/><text x="9.5" y="9.5" font-size="1.9"><tspan dy="-1.45em">Change up</tspan><tspan x="9.5" dy="1.2em">where it is</tspan><tspan x="9.5" dy="1.2em">possible to</tspan><tspan x="9.5" dy="1.2em">performed</tspan></text></g>
<g id="de-o4" transform="translate(1220 415)"><rect class="o" width="20" height="22"/><text x="10" y="11" font-size="2.4"><tspan dy="-.85em">Workouts</tspan><tspan x="10" dy="1.2em">you can do</tspan><tspan x="10" dy="1.2em">outside</tspan></text></g>
<g id="de-o5" transform="translate(1227 445)"><rect class="o" width="16" height="17"/><text x="8" y="8.5" font-size="1.8"><tspan dy="-.85em">Tips to avoid</tspan><tspan x="8" dy="1.2em">distractions</tspan><tspan x="8" dy="1.2em">at home</tspan></text></g>
<g id="de-o6" transform="translate(1223 474)"><rect class="o" width="19" height="19"/><text x="9.5" y="9.5" font-size="1.8"><tspan dy="-2.05em">Apps to</tspan><tspan x="9.5" dy="1.2em">find</tspan><tspan x="9.5" dy="1.2em">motivated</tspan><tspan x="9.5" dy="1.2em">friends and</tspan><tspan x="9.5" dy="1.2em">spaces</tspan></text></g>
<g id="de-o7" transform="translate(1246 471)"><rect class="o" width="18" height="18"/><text x="9" y="9" font-size="1.8"><tspan dy="-1.45em">Sharing</tspan><tspan x="9" dy="1.2em">workout</tspan><tspan x="9" dy="1.2em">spaces with</tspan><tspan x="9" dy="1.2em">others</tspan></text></g>
<g id="de-o8" transform="translate(1152 503)"><rect class="o" width="27" height="26"/><text x="13.5" y="13" font-size="1.8"><tspan dy="-2.65em">Finding a Community</tspan><tspan x="13.5" dy="1.2em">Space for</tspan><tspan x="13.5" dy="1.2em">exercise that</tspan><tspan x="13.5" dy="1.2em">doesn't need a gym</tspan><tspan x="13.5" dy="1.2em">and can be</tspan><tspan x="13.5" dy="1.2em">accessible</tspan></text></g>

<!-- Pre: Workouts -->
<g id="workouts-pre" transform="translate(1363 304)"><rect class="p" width="33" height="34"/><text x="16.5" y="17" font-size="3.5" dy=".35em">Workouts</text></g>
<g id="pw-b1" transform="translate(1316 344)"><rect class="b" width="27" height="28"/><text x="13.5" y="14" font-size="2.2"><tspan dy="-.25em">Categorization</tspan><tspan x="13.5" dy="1.2em">of workouts</tspan></text></g>
<g id="pw-b2" transform="translate(1348 344)"><rect class="b" width="27" height="28"/><text x="13.5" y="14" font-size="3.9" dy=".35em">Activities</text></g>
<g id="pw-b3" transform="translate(1382 344)"><rect class="b" width="29" height="30"/><text x="14.5" y="15" font-size="3.9"><tspan dy="-.85em">Feelings</tspan><tspan x="14.5" dy="1.2em">towards</tspan><tspan x="14.5" dy="1.2em">workouts</tspan></text></g>
<g id="pw-b4" transform="translate(1417 344)"><rect class="b" width="30" height="30"/><text x="15" y="15" font-size="3.9"><tspan dy="-.85em">Frequency</tspan><tspan x="15" dy="1.2em">of</tspan><tspan x="15" dy="1.2em">workouts</tspan></text></g>
<g id="pw-1a" transform="translate(1318 377)"><rect class="y" width="22" height="22"/><text x="11" y="11" font-size="5"><tspan dy="-.25em">No leg</tspan><tspan x="11" dy="1.2em">day</tspan></text></g>
<g id="pw-1b" transform="translate(1318 403)"><rect class="y" width="22" height="23"/><text x="11" y="11.5" font-size="2.2"><tspan dy="-1.45em">Likes to</tspan><tspan x="11" dy="1.2em">workout</tspan><tspan x="11" dy="1.2em">according to</tspan><tspan x="11" dy="1.2em">muscle groups</tspan></text></g>
<g id="pw-1c" transform="translate(1318 428)"><rect class="y" width="22" height="20"/><text x="11" y="10" font-size="3.3"><tspan dy="-.85em">group</tspan><tspan x="11" dy="1.2em">days at</tspan><tspan x="11" dy="1.2em">the gym</tspan></text></g>
<g id="pw-1d" transform="translate(1318 453)"><rect class="y" width="22" height="22"/><text x="11" y="11" font-size="2.2"><tspan dy="-1.45em">Alternates</tspan><tspan x="11" dy="1.2em">workouts</tspan><tspan x="11" dy="1.2em">between arms</tspan><tspan x="11" dy="1.2em">and chest</tspan></text></g>
<g id="pw-1e" transform="translate(1318 479)"><rect class="y" width="22" height="20"/><text x="11" y="10" font-size="2.2"><tspan dy="-1.45em">Pre-day</tspan><tspan x="11" dy="1.2em">usually light</tspan><tspan x="11" dy="1.2em">workout or</tspan><tspan x="11" dy="1.2em">none</tspan></text></g>
<g id="pw-1f" transform="translate(1318 508)"><rect class="y" width="22" height="20"/><text x="11" y="10" font-size="2"><tspan dy="-1.45em">Split workouts</tspan><tspan x="11" dy="1.2em">cause</tspan><tspan x="11" dy="1.2em">more focus</tspan><tspan x="11" dy="1.2em">more</tspan></text></g>
<g id="pw-2a" transform="translate(1351 377)"><rect class="y" width="22" height="21"/><text x="11" y="10.5" font-size="2.9"><tspan dy="-.85em">Before he</tspan><tspan x="11" dy="1.2em">would run</tspan><tspan x="11" dy="1.2em">3 miles</tspan></text></g>
<g id="pw-2b" transform="translate(1351 403)"><rect class="y" width="22" height="22"/><text x="11" y="11" font-size="3.4"><tspan dy="-.85em">Bench</tspan><tspan x="11" dy="1.2em">presses</tspan><tspan x="11" dy="1.2em">for chest</tspan></text></g>
<g id="pw-2c" transform="translate(1351 430)"><rect class="y" width="22" height="20"/><text x="11" y="10" font-size="2.5"><tspan dy="-.85em">Runs</tspan><tspan x="11" dy="1.2em">outside on</tspan><tspan x="11" dy="1.2em">Sundays</tspan></text></g>
<g id="pw-2d" transform="translate(1351 452)"><rect class="y" width="22" height="20"/><text x="11" y="10" font-size="2.7"><tspan dy="-.85em">Long</tspan><tspan x="11" dy="1.2em">jump/high</tspan><tspan x="11" dy="1.2em">jump</tspan></text></g>
<g id="pw-2e" transform="translate(1351 476)"><rect class="y" width="22" height="20"/><text x="11" y="10" font-size="2.7"><tspan dy="-.85em">Uses free</tspan><tspan x="11" dy="1.2em">weights to</tspan><tspan x="11" dy="1.2em">workout</tspan></text></g>
<g id="pw-2f" transform="translate(1351 501)"><rect class="y" width="22" height="19"/><text x="11" y="9.5" font-size="3.5"><tspan dy="-.25em">Yoga</tspan><tspan x="11" dy="1.2em">classes</tspan></text></g>
<g id="pw-3a" transform="translate(1385 377)"><rect class="y" width="22" height="21"/><text x="11" y="10.5" font-size="3.4"><tspan dy="-.85em">Hates</tspan><tspan x="11" dy="1.2em">the</tspan><tspan x="11" dy="1.2em">treadmill</tspan></text></g>
<g id="pw-3b" transform="translate(1385 403)"><rect class="y" width="22" height="22"/><text x="11" y="11" font-size="3.6"><tspan dy="-.85em">Misses</tspan><tspan x="11" dy="1.2em">the</tspan><tspan x="11" dy="1.2em">routine</tspan></text></g>
<g id="pw-3c" transform="translate(1385 429)"><rect class="y" width="22" height="23"/><text x="11" y="11.5" font-size="2.7"><tspan dy="-1.45em">Tried to set</tspan><tspan x="11" dy="1.2em">personal</tspan><tspan x="11" dy="1.2em">bests each</tspan><tspan x="11" dy="1.2em">time</tspan></text></g>
<g id="pw-3d" transform="translate(1385 457)"><rect class="y" width="22" height="20"/><text x="11" y="10" font-size="2.4"><tspan dy="-.85em">Working</tspan><tspan x="11" dy="1.2em">out was fun/</tspan><tspan x="11" dy="1.2em">some days</tspan></text></g>
<g id="surveys" transform="translate(1389 480)"><rect class="o" width="26" height="26"/><text x="13" y="13" font-size="2.5"><tspan dy="-1.45em">Provide surveys</tspan><tspan x="13" dy="1.2em">and reports</tspan><tspan x="13" dy="1.2em">for personal</tspan><tspan x="13" dy="1.2em">data</tspan></text></g>
<g id="pw-4a" transform="translate(1421 380)"><rect class="y" width="21" height="22"/><text x="10.5" y="11" font-size="2.6"><tspan dy="-1.45em">Went to the</tspan><tspan x="10.5" dy="1.2em">gym 4-5</tspan><tspan x="10.5" dy="1.2em">times a</tspan><tspan x="10.5" dy="1.2em">week</tspan></text></g>
<g id="pw-4b" transform="translate(1421 405)"><rect class="y" width="21" height="22"/><text x="10.5" y="11" font-size="1.8"><tspan dy="-1.45em">Worked out 3-4</tspan><tspan x="10.5" dy="1.2em">times a week,</tspan><tspan x="10.5" dy="1.2em">mostly doing</tspan><tspan x="10.5" dy="1.2em">1 hour sessions</tspan></text></g>
<g id="pw-4c" transform="translate(1421 430)"><rect class="y" width="21" height="23"/><text x="10.5" y="11.5" font-size="2.7"><tspan dy="-1.45em">Worked out</tspan><tspan x="10.5" dy="1.2em">for 2 hours</tspan><tspan x="10.5" dy="1.2em">3-4 times a</tspan><tspan x="10.5" dy="1.2em">week</tspan></text></g>
<g id="pw-4d" transform="translate(1421 457)"><rect class="y" width="21" height="20"/><text x="10.5" y="10" font-size="2.5"><tspan dy="-1.45em">Before</tspan><tspan x="10.5" dy="1.2em">lockdown 6</tspan><tspan x="10.5" dy="1.2em">days a</tspan><tspan x="10.5" dy="1.2em">week</tspan></text></g>
<g id="pw-4e" transform="translate(1421 483)"><rect class="y" width="21" height="20"/><text x="10.5" y="10" font-size="2.3"><tspan dy="-1.45em">Before</tspan><tspan x="10.5" dy="1.2em">lockdown,</tspan><tspan x="10.5" dy="1.2em">workouts</tspan><tspan x="10.5" dy="1.2em">rest days</tspan></text></g>
<g id="pw-o1" transform="translate(1287 416)"><rect class="o" width="30" height="30"/><text x="15" y="15" font-size="1.9"><tspan dy="-2.65em">workout schedule</tspan><tspan x="15" dy="1.2em">divided into types</tspan><tspan x="15" dy="1.2em">per workout type</tspan><tspan x="15" dy="1.2em">to allow muscle</tspan><tspan x="15" dy="1.2em">groups to rest</tspan><tspan x="15" dy="1.2em">and recover</tspan></text></g>
<g id="routine-schedule" transform="translate(1302 467)"><rect class="o" width="19" height="19"/><text x="9.5" y="9.5" font-size="2.1"><tspan dy="-1.45em">Routine</tspan><tspan x="9.5" dy="1.2em">Schedule</tspan><tspan x="9.5" dy="1.2em">for plans and</tspan><tspan x="9.5" dy="1.2em">trainings</tspan></text></g>
<g id="pw-o3" transform="translate(1368 516)"><rect class="o" width="19" height="19"/><text x="9.5" y="9.5" font-size="1.9"><tspan dy="-.85em">Give clients</tspan><tspan x="9.5" dy="1.2em">you can</tspan><tspan x="9.5" dy="1.2em">"bounce" into</tspan></text></g>
<g id="pw-o4" transform="translate(1395 514)"><rect class="o" width="18" height="19"/><text x="9" y="9.5" font-size="1.8"><tspan dy="-2.05em">Reminders</tspan><tspan x="9" dy="1.2em">to work out</tspan><tspan x="9" dy="1.2em">for a</tspan><tspan x="9" dy="1.2em">consistent</tspan><tspan x="9" dy="1.2em">routine</tspan></text></g>
<g id="pw-o5" transform="translate(1417 518)"><rect class="o" width="27" height="26"/><text x="13.5" y="13" font-size="1.9"><tspan dy="-2.05em">Something easy to</tspan><tspan x="13.5" dy="1.2em">track workout</tspan><tspan x="13.5" dy="1.2em">consistency to</tspan><tspan x="13.5" dy="1.2em">maintain</tspan><tspan x="13.5" dy="1.2em">routine</tspan></text></g>

<!-- Pre: Environment -->
<g id="environment-pre" transform="translate(1487 301)"><rect class="p" width="38" height="38"/><text x="19" y="19" font-size="3.2" dy=".35em">Environment</text></g>
<g id="pe-b1" transform="translate(1470 346)"><rect class="b" width="29" height="29"/><text x="14.5" y="14.5" font-size="3"><tspan dy="-.25em">Workout</tspan><tspan x="14.5" dy="1.2em">Places</tspan></text></g>
<g id="pe-b2" transform="translate(1509 347)"><rect class="b" width="28" height="28"/><text x="14" y="14" font-size="2.8"><tspan dy="-.25em">Gym</tspan><tspan x="14" dy="1.2em">Environment</tspan></text></g>
<g id="pe-1a" transform="translate(1474 377)"><rect class="y" width="22" height="18"/><text x="11" y="9" font-size="2.5"><tspan dy="-.25em">At the</tspan><tspan x="11" dy="1.2em">dorms</tspan></text></g>
<g id="pe-1b" transform="translate(1474 399)"><rect class="y" width="22" height="24"/><text x="11" y="12" font-size="2.4"><tspan dy="-.85em">Works out at</tspan><tspan x="11" dy="1.2em">Costa Verde</tspan><tspan x="11" dy="1.2em">Fitness</tspan></text></g>
<g id="pe-1c" transform="translate(1474 431)"><rect class="y" width="22" height="21"/><text x="11" y="10.5" font-size="2.1"><tspan dy="-.25em">Used to go to a</tspan><tspan x="11" dy="1.2em">private fitness</tspan></text></g>
<g id="pe-1d" transform="translate(1474 456)"><rect class="y" width="22" height="19"/><text x="11" y="9.5" font-size="2.6" dy=".35em">Gym</text></g>
<g id="pe-1e" transform="translate(1474 482)"><rect class="y" width="22" height="21"/><text x="11" y="10.5" font-size="2.3"><tspan dy="-.25em">UCSD</tspan><tspan x="11" dy="1.2em">school gym</tspan></text></g>
<g id="pe-1f" transform="translate(1474 507)"><rect class="y" width="22" height="21"/><text x="11" y="10.5" font-size="2.1"><tspan dy="-.25em">Used to go to a</tspan><tspan x="11" dy="1.2em">school gym</tspan></text></g>
<g id="pe-2a" transform="translate(1512 382)"><rect class="y" width="21" height="21"/><text x="10.5" y="10.5" font-size="2.3"><tspan dy="-.85em">Shows</tspan><tspan x="10.5" dy="1.2em">environment</tspan><tspan x="10.5" dy="1.2em">of the gym</tspan></text></g>
<g id="pe-2b" transform="translate(1512 405)"><rect class="y" width="21" height="20"/><text x="10.5" y="10" font-size="2.7"><tspan dy="-1.45em">gym is</tspan><tspan x="10.5" dy="1.2em">meant for</tspan><tspan x="10.5" dy="1.2em">working</tspan><tspan x="10.5" dy="1.2em">out</tspan></text></g>
<g id="pe-2c" transform="translate(1512 427)"><rect class="y" width="21" height="21"/><text x="10.5" y="10.5" font-size="2.4"><tspan dy="-1.45em">Likes that</tspan><tspan x="10.5" dy="1.2em">gym and</tspan><tspan x="10.5" dy="1.2em">home are</tspan><tspan x="10.5" dy="1.2em">separate</tspan></text></g>
<g id="pe-2d" transform="translate(1512 452)"><rect class="y" width="21" height="20"/><text x="10.5" y="10" font-size="2.2"><tspan dy="-1.45em">Being at a</tspan><tspan x="10.5" dy="1.2em">gym provides</tspan><tspan x="10.5" dy="1.2em">focus to</tspan><tspan x="10.5" dy="1.2em">workout</tspan></text></g>
<g id="pe-o1" transform="translate(1517 473)"><rect class="o" width="19" height="18"/><text x="9.5" y="9" font-size="1.8"><tspan dy="-2.05em">Transition</tspan><tspan x="9.5" dy="1.2em">between</tspan><tspan x="9.5" dy="1.2em">home &amp;</tspan><tspan x="9.5" dy="1.2em">gym</tspan><tspan x="9.5" dy="1.2em">focused</tspan></text></g>
<g id="pe-o2" transform="translate(1537 396)"><rect class="o" width="18" height="18"/><text x="9" y="9" font-size="2.1"><tspan dy="-.85em">Workouts</tspan><tspan x="9" dy="1.2em">during</tspan><tspan x="9" dy="1.2em">outside</tspan></text></g>
</svg>
